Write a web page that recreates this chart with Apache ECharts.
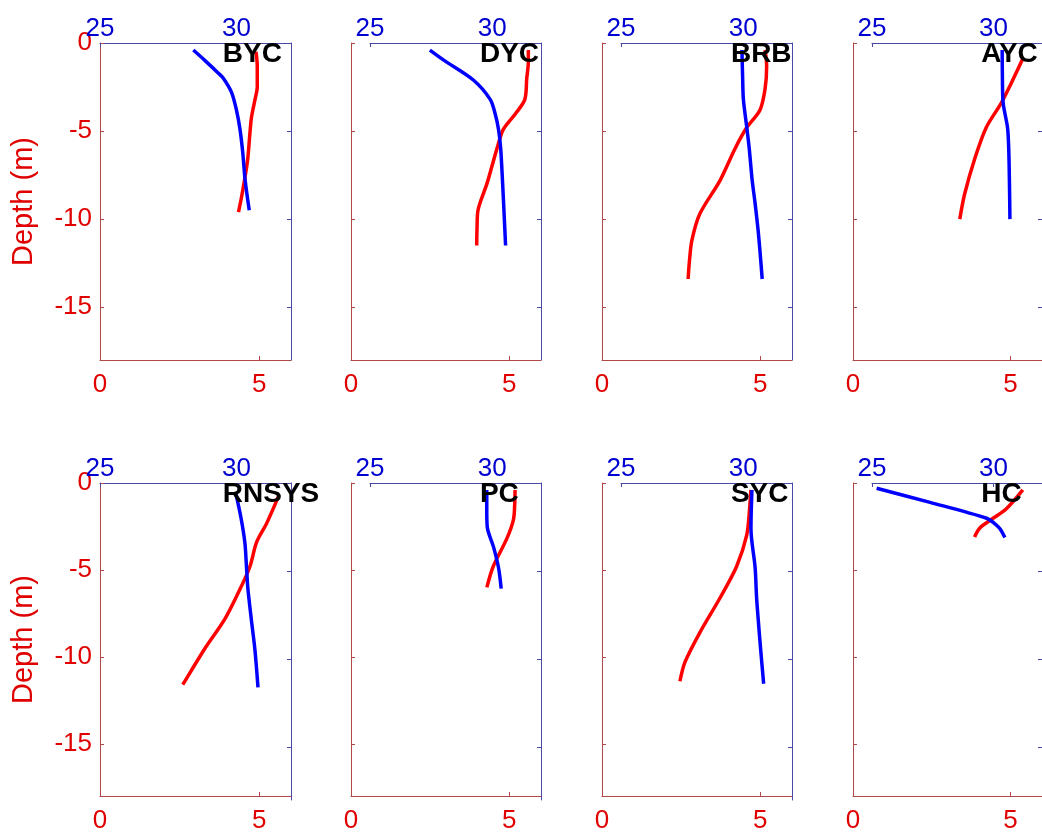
<!DOCTYPE html>
<html>
<head>
<meta charset="utf-8">
<script src="https://cdn.jsdelivr.net/npm/echarts@6/dist/echarts.min.js"></script>
<style>
  html, body { margin: 0; padding: 0; background: #fff; }
  #main { width: 1042px; height: 834px; }
</style>
</head>
<body>
<div id="main"></div>
<script>
// station names, row by row
var stations = ['BYC', 'DYC', 'BRB', 'AYC', 'RNSYS', 'PC', 'SYC', 'HC'];

// red: bottom axis (0-6), blue: top axis (25-32), depth in m
var bycDoDepth = [-0.5, -1.3, -2.5, -3.2, -4.2, -5.1, -6.6, -8.0, -8.9, -9.6];
var bycDo = [4.9, 4.94, 4.94, 4.87, 4.76, 4.71, 4.64, 4.52, 4.43, 4.35];
var bycSalDepth = [-0.4, -1.0, -1.7, -2.0, -2.8, -3.8, -4.9, -6.2, -7.8, -9.5];
var bycSal = [28.42, 28.85, 29.33, 29.52, 29.82, 30.0, 30.13, 30.23, 30.32, 30.47];

var dycDoDepth = [-0.4, -1.1, -2.0, -3.2, -4.0, -4.9, -5.8, -7.0, -8.0, -9.5, -10.5, -11.5];
var dycDo = [5.6, 5.6, 5.55, 5.49, 5.2, 4.81, 4.64, 4.45, 4.29, 4.01, 3.98, 3.97];
var dycSalDepth = [-0.4, -1.0, -2.1, -3.2, -4.0, -4.9, -6.0, -8.0, -10.0, -11.5];
var dycSal = [27.45, 28.05, 29.23, 29.92, 30.12, 30.26, 30.35, 30.43, 30.5, 30.55];

var brbDoDepth = [-0.4, -1.3, -2.6, -3.8, -4.8, -6.0, -7.8, -9.7, -11.2, -12.4, -13.4];
var brbDo = [5.15, 5.2, 5.15, 4.99, 4.57, 4.2, 3.73, 3.09, 2.84, 2.76, 2.72];
var brbSalDepth = [-0.4, -2.0, -3.2, -4.8, -6.0, -7.8, -9.0, -10.6, -12.0, -13.4];
var brbSal = [29.95, 29.98, 30.01, 30.15, 30.25, 30.37, 30.48, 30.61, 30.7, 30.78];

var aycDoDepth = [-0.9, -2.3, -3.4, -4.8, -6.6, -8.6, -10.0];
var aycDo = [5.39, 5.02, 4.71, 4.23, 3.86, 3.54, 3.39];
var aycSalDepth = [-0.4, -2.0, -3.4, -4.8, -6.0, -8.0, -10.0];
var aycSal = [30.36, 30.37, 30.4, 30.58, 30.63, 30.66, 30.68];

var rnsysDoDepth = [-0.8, -2.3, -3.4, -4.8, -6.1, -7.8, -9.5, -10.9, -11.6];
var rnsysDo = [5.6, 5.24, 4.92, 4.71, 4.4, 3.93, 3.3, 2.83, 2.6];
var rnsysSalDepth = [-0.6, -2.0, -3.4, -4.8, -6.0, -7.8, -9.5, -11.6];
var rnsysSal = [29.98, 30.17, 30.31, 30.37, 30.42, 30.55, 30.68, 30.79];

var pcDoDepth = [-0.4, -1.2, -2.1, -3.2, -4.8, -6.0];
var pcDo = [5.18, 5.17, 5.13, 4.92, 4.49, 4.29];
var pcSalDepth = [-0.4, -1.5, -2.5, -3.6, -4.8, -6.0];
var pcSal = [29.78, 29.78, 29.8, 30.05, 30.26, 30.37];

var sycDoDepth = [-0.4, -1.5, -3.0, -4.8, -6.6, -8.6, -10.3, -11.4];
var sycDo = [4.7, 4.66, 4.57, 4.25, 3.73, 3.09, 2.62, 2.46];
var sycSalDepth = [-0.4, -2.6, -4.8, -6.5, -7.8, -9.5, -11.4];
var sycSal = [30.36, 30.32, 30.49, 30.55, 30.62, 30.72, 30.84];

var hcDoDepth = [-0.4, -1.5, -2.1, -2.6, -3.1];
var hcDo = [5.39, 4.86, 4.39, 4.02, 3.86];
var hcSalDepth = [-0.3, -1.1, -2.0, -2.3, -2.6, -3.1];
var hcSal = [25.19, 27.39, 29.72, 30.05, 30.27, 30.47];

// tick labels
var depthTicks = [0, -5, -10, -15];
var blueDepthTicks = [-5, -10, -15];
var doTicks = [0, 5];
var salTicks = [25, 30];

var profiles = [
    [bycDo, bycDoDepth, bycSal, bycSalDepth],
    [dycDo, dycDoDepth, dycSal, dycSalDepth],
    [brbDo, brbDoDepth, brbSal, brbSalDepth],
    [aycDo, aycDoDepth, aycSal, aycSalDepth],
    [rnsysDo, rnsysDoDepth, rnsysSal, rnsysSalDepth],
    [pcDo, pcDoDepth, pcSal, pcSalDepth],
    [sycDo, sycDoDepth, sycSal, sycSalDepth],
    [hcDo, hcDoDepth, hcSal, hcSalDepth]
];

function pairs(xs, ys) {
    var out = [];
    for (var i = 0; i < xs.length; i++) {
        out.push([xs[i], ys[i]]);
    }
    return out;
}

var FONT = '"Liberation Sans", Arial, sans-serif';
var RED = '#e00000';
var BLUE = '#0000d0';
var RED_LINE = '#b04848';
var BLUE_LINE = '#4848a8';

var colLeft = [100, 351, 602, 853];
var colWidth = [191, 190, 190, 189];
var rowTop = [43, 483];
var plotH = 317;

var grids = [], xAxes = [], yAxes = [], series = [], titles = [];

for (var i = 0; i < stations.length; i++) {
    var row = Math.floor(i / 4);
    var col = i % 4;
    var left = colLeft[col];
    var right = left + colWidth[col];
    var blueLeft = col === 0 ? left : left + 19;

    // red axes (left + bottom)
    grids.push({left: left, top: rowTop[row], width: colWidth[col], height: plotH});
    // blue axes (top + right)
    grids.push({left: blueLeft, top: rowTop[row], width: right - blueLeft, height: plotH});

    xAxes.push({
        gridIndex: 2 * i, type: 'value', position: 'bottom',
        min: 0, max: 6,
        axisLine: {onZero: false, lineStyle: {color: RED_LINE, width: 1}},
        axisTick: {inside: true, length: 4, customValues: doTicks, lineStyle: {color: RED_LINE}},
        axisLabel: {color: RED, fontSize: 26, fontFamily: FONT, margin: 12, customValues: doTicks},
        splitLine: {show: false}
    });
    xAxes.push({
        gridIndex: 2 * i + 1, type: 'value', position: 'top',
        min: 25, max: 32,
        axisLine: {onZero: false, lineStyle: {color: BLUE_LINE, width: 1}},
        axisTick: {inside: true, length: 4, customValues: salTicks, lineStyle: {color: BLUE_LINE}},
        axisLabel: {color: BLUE, fontSize: 26, fontFamily: FONT, margin: 1, customValues: salTicks},
        splitLine: {show: false}
    });

    yAxes.push({
        gridIndex: 2 * i, type: 'value', position: 'left',
        min: -18, max: 0,
        name: col === 0 ? 'Depth (m)' : '',
        nameLocation: 'middle', nameGap: 62,
        nameTextStyle: {color: RED, fontSize: 29, fontFamily: FONT},
        axisLine: {show: true, onZero: false, lineStyle: {color: RED_LINE, width: 1}},
        axisTick: {show: true, inside: true, length: 4, customValues: depthTicks, lineStyle: {color: RED_LINE}},
        axisLabel: {show: col === 0, color: RED, fontSize: 26, fontFamily: FONT, margin: 8, customValues: depthTicks},
        splitLine: {show: false}
    });
    yAxes.push({
        gridIndex: 2 * i + 1, type: 'value', position: 'right',
        min: -18, max: 0,
        axisLine: {show: true, onZero: false, lineStyle: {color: BLUE_LINE, width: 1}},
        axisTick: {show: true, inside: true, length: 4, customValues: blueDepthTicks, lineStyle: {color: BLUE_LINE}},
        axisLabel: {show: false},
        splitLine: {show: false}
    });

    var p = profiles[i];
    series.push({
        type: 'line', xAxisIndex: 2 * i, yAxisIndex: 2 * i,
        data: pairs(p[0], p[1]), smooth: 0.3, symbol: 'none',
        lineStyle: {color: '#ff0000', width: 3.5}, z: 3
    });
    series.push({
        type: 'line', xAxisIndex: 2 * i + 1, yAxisIndex: 2 * i + 1,
        data: pairs(p[2], p[3]), smooth: 0.3, symbol: 'none',
        lineStyle: {color: '#0000ff', width: 3.5}, z: 3
    });

    titles.push({
        text: stations[i],
        left: blueLeft + 4.5 / 7 * (right - blueLeft),
        top: rowTop[row] - 3,
        padding: 0,
        textStyle: {color: '#000', fontSize: 28, fontWeight: 'bold', fontFamily: FONT}
    });
}

var chart = echarts.init(document.getElementById('main'));
chart.setOption({
    animation: false,
    backgroundColor: '#fff',
    title: titles,
    grid: grids,
    xAxis: xAxes,
    yAxis: yAxes,
    series: series
});
</script>
</body>
</html>
